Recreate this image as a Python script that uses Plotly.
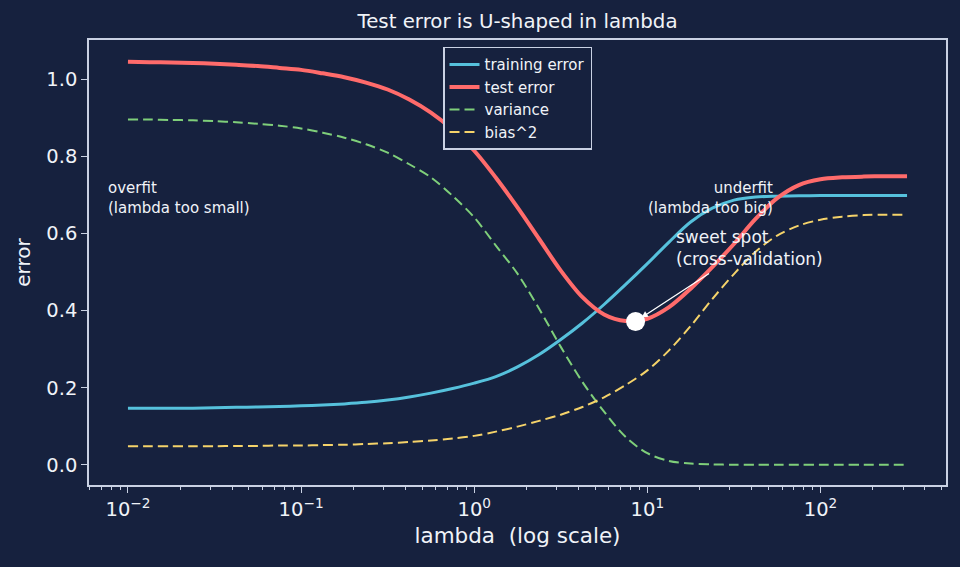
import math
import plotly.graph_objects as go

lam = [0.01, 0.01334, 0.01778, 0.02371, 0.03162, 0.04217, 0.05623, 0.07499,
       0.1, 0.1334, 0.1778, 0.2371, 0.3162, 0.4217, 0.5623, 0.7499,
       1.0, 1.334, 1.778, 2.371, 3.162, 4.217, 5.623, 7.499,
       10.0, 13.34, 17.78, 23.71, 31.62, 42.17, 56.23, 74.99,
       100.0, 133.4, 177.8, 237.1, 316.2]
train_err = [0.147, 0.147, 0.147, 0.147, 0.148, 0.149, 0.150, 0.151,
             0.153, 0.155, 0.158, 0.162, 0.168, 0.176, 0.186, 0.198,
             0.212, 0.229, 0.254, 0.286, 0.325, 0.368, 0.416, 0.468,
             0.522, 0.578, 0.630, 0.666, 0.687, 0.695, 0.697, 0.698,
             0.699, 0.699, 0.699, 0.699, 0.699]
test_err = [1.046, 1.045, 1.044, 1.043, 1.041, 1.038, 1.035, 1.030,
            1.025, 1.016, 1.006, 0.992, 0.974, 0.948, 0.914, 0.870,
            0.815, 0.745, 0.668, 0.586, 0.504, 0.435, 0.390, 0.373,
            0.379, 0.409, 0.457, 0.513, 0.573, 0.638, 0.692, 0.726,
            0.741, 0.746, 0.748, 0.749, 0.749]
variance = [0.896, 0.896, 0.895, 0.894, 0.892, 0.889, 0.885, 0.880,
            0.873, 0.862, 0.849, 0.832, 0.810, 0.780, 0.746, 0.698,
            0.642, 0.569, 0.496, 0.405, 0.306, 0.215, 0.138, 0.072,
            0.030, 0.010, 0.003, 0.001, 0.0, 0.0, 0.0, 0.0,
            0.0, 0.0, 0.0, 0.0, 0.0]
bias2 = [0.048, 0.048, 0.048, 0.048, 0.048, 0.049, 0.049, 0.050,
         0.050, 0.051, 0.052, 0.054, 0.056, 0.059, 0.063, 0.068,
         0.075, 0.086, 0.099, 0.114, 0.130, 0.150, 0.175, 0.207,
         0.245, 0.297, 0.360, 0.430, 0.495, 0.553, 0.595, 0.621,
         0.636, 0.644, 0.648, 0.649, 0.649]
sweet_lambda = 8.55
sweet_err = 0.372

tick_vals = [0.01, 0.1, 1, 10, 100]
tick_text = ["10<sup>\u22122</sup>", "10<sup>\u22121</sup>", "10<sup>0</sup>",
             "10<sup>1</sup>", "10<sup>2</sup>"]

BG = "#16213e"
FG = "#f0f3f8"
SPINE = "#c9d1e3"
FONT = "DejaVu Sans"

fig = go.Figure()
fig.add_trace(go.Scatter(x=lam, y=train_err, mode="lines", name="training error",
                         line=dict(color="#56c1dc", width=3, shape="spline", smoothing=0.9)))
fig.add_trace(go.Scatter(x=lam, y=test_err, mode="lines", name="test error",
                         line=dict(color="#ff6b6b", width=4, shape="spline", smoothing=0.9)))
fig.add_trace(go.Scatter(x=lam, y=variance, mode="lines", name="variance",
                         line=dict(color="#7fcf7a", width=2, dash="10px,5px", shape="spline",
                                   smoothing=0.9)))
fig.add_trace(go.Scatter(x=lam, y=bias2, mode="lines", name="bias^2",
                         line=dict(color="#f5d36a", width=2, dash="10px,5px", shape="spline",
                                   smoothing=0.9)))
fig.add_trace(go.Scatter(x=[sweet_lambda], y=[sweet_err], mode="markers", showlegend=False,
                         marker=dict(color="white", size=19, line=dict(width=0))))

ann_font = dict(family=FONT, size=15, color=FG)
fig.add_annotation(x=-2.125, y=0.693, xref="x", yref="y", text="overfit<br>(lambda too small)",
                   showarrow=False, xanchor="left", yanchor="middle", align="left", font=ann_font)
fig.add_annotation(x=1.74, y=0.693, xref="x", yref="y", text="underfit<br>(lambda too big)",
                   showarrow=False, xanchor="right", yanchor="middle", align="right", font=ann_font)
fig.add_annotation(x=1.155, y=0.562, xref="x", yref="y", text="sweet spot<br>(cross-validation)",
                   showarrow=False, xanchor="left", yanchor="middle", align="left",
                   font=dict(family=FONT, size=17, color=FG))
fig.add_annotation(x=math.log10(sweet_lambda), y=sweet_err, xref="x", yref="y", text="",
                   showarrow=True, ax=75, ay=-49, arrowhead=2, arrowsize=1, arrowwidth=1.3,
                   arrowcolor="white", standoff=7)

fig.update_layout(
    width=960, height=567,
    paper_bgcolor=BG, plot_bgcolor=BG,
    margin=dict(l=89, r=14, t=40, b=82),
    font=dict(family=FONT, color=FG, size=19),
    title=dict(text="Test error is U-shaped in lambda", x=0.5, xref="paper", xanchor="center",
               y=1 - 21 / 567, yanchor="middle", font=dict(size=19.8, color=FG, family=FONT)),
    legend=dict(x=0.5, xanchor="center", y=0.985, yanchor="top", bgcolor=BG,
                bordercolor=SPINE, borderwidth=1.5, font=dict(size=15, color=FG, family=FONT),
                tracegroupgap=0, itemwidth=30),
    showlegend=True,
)
fig.update_xaxes(type="log", range=[-2.225, 2.725], tickvals=tick_vals, ticktext=tick_text,
                 showgrid=False, zeroline=False, showline=True, mirror=True, linecolor=SPINE,
                 linewidth=1.5, ticks="outside", ticklen=6, tickwidth=1.2, tickcolor=SPINE,
                 tickfont=dict(size=19.5, color=FG),
                 minor=dict(dtick="D1", ticks="outside", ticklen=3.5, tickwidth=1, tickcolor=SPINE,
                            showgrid=False),
                 title=dict(text="lambda  (log scale)", font=dict(size=21.5, color=FG), standoff=8))
fig.update_yaxes(range=[-0.0525, 1.1025], tickvals=[0, 0.2, 0.4, 0.6, 0.8, 1.0], tickformat=".1f",
                 showgrid=False, zeroline=False, showline=True, mirror=True, linecolor=SPINE,
                 linewidth=1.5, ticks="outside", ticklen=6, tickwidth=1.2, tickcolor=SPINE,
                 tickfont=dict(size=19.5, color=FG),
                 title=dict(text="error", font=dict(size=20, color=FG), standoff=10))

fig.write_html("out.html")
